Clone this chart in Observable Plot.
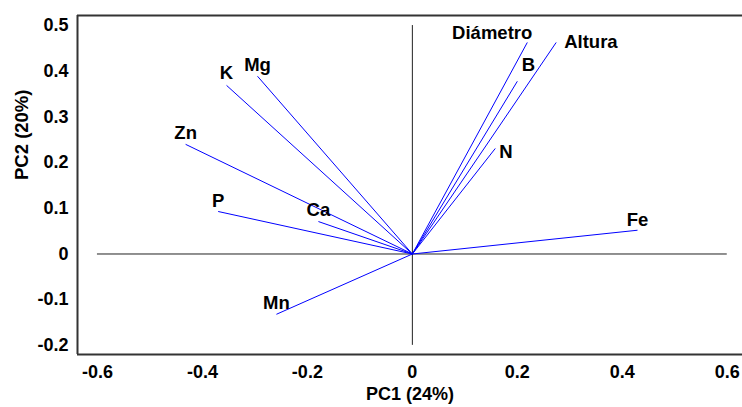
<!DOCTYPE html>
<html>
<head>
<meta charset="utf-8">
<script src="https://cdn.jsdelivr.net/npm/d3@7"></script>
<script src="https://cdn.jsdelivr.net/npm/@observablehq/plot@0.6"></script>
<style>
  html, body { margin: 0; padding: 0; background: #fff; }
  #chart svg { display: block; }
</style>
</head>
<body>
<div id="chart"></div>
<script>
// Loadings (PC1, PC2)
const variables = ["Diámetro", "Altura", "B", "N", "Fe", "K", "Mg", "Zn", "P", "Ca", "Mn"];
const pc1 = [0.219, 0.274, 0.200, 0.158, 0.429, -0.354, -0.295, -0.432, -0.370, -0.179, -0.259];
const pc2 = [0.463, 0.463, 0.378, 0.231, 0.052, 0.369, 0.389, 0.240, 0.093, 0.071, -0.132];
const xTicks = [-0.6, -0.4, -0.2, 0, 0.2, 0.4, 0.6];
const yTicks = [-0.2, -0.1, 0, 0.1, 0.2, 0.3, 0.4, 0.5];
const xLabel = "PC1 (24%)";
const yLabel = "PC2 (20%)";

const data = variables.map((name, i) => ({name, x: pc1[i], y: pc2[i]}));

// label offsets relative to vector tips (px)
const labelOffset = {
  "Diámetro": {dx: 5, dy: -9, anchor: "end"},
  "Altura": {dx: 8, dy: 0, anchor: "start"},
  "B": {dx: 11, dy: -16, anchor: "middle"},
  "N": {dx: 4, dy: 4, anchor: "start"},
  "Fe": {dx: 0, dy: -10, anchor: "middle"},
  "K": {dx: 0, dy: -12, anchor: "middle"},
  "Mg": {dx: 0, dy: -11, anchor: "middle"},
  "Zn": {dx: 0, dy: -11, anchor: "middle"},
  "P": {dx: 0, dy: -10, anchor: "middle"},
  "Ca": {dx: 0, dy: -11, anchor: "middle"},
  "Mn": {dx: 0, dy: -11, anchor: "middle"}
};

const xDomain = [-0.638, 0.629];
const yDomain = [-0.22, 0.522];
const fmt = d => d === 0 ? "0" : d.toFixed(1);
const font = "Liberation Sans, Arial, sans-serif";
const fs = 18;

const textMarks = data.map(d => {
  const o = labelOffset[d.name];
  return Plot.text([d], {x: "x", y: "y", text: "name", dx: o.dx, dy: o.dy, textAnchor: o.anchor,
    fontSize: 18.5, fontWeight: "bold", fill: "#000"});
});

const chart = Plot.plot({
  width: 742,
  height: 407,
  marginLeft: 77,
  marginRight: 0,
  marginTop: 15,
  marginBottom: 53,
  style: {fontFamily: font, fontWeight: "bold", fontSize: fs + "px", color: "#000", background: "#fff"},
  x: {domain: xDomain},
  y: {domain: yDomain},
  marks: [
    Plot.axisX({ticks: xTicks, tickSize: 0, tickPadding: 11, tickFormat: fmt, label: null, fontSize: fs, fontWeight: "bold"}),
    Plot.axisY({ticks: yTicks, tickSize: 0, tickPadding: 9, tickFormat: fmt, label: null, fontSize: fs, fontWeight: "bold"}),
    Plot.ruleY([yDomain[0], yDomain[1]], {stroke: "#333", strokeWidth: 2}),
    Plot.ruleX([xDomain[0]], {stroke: "#333", strokeWidth: 2}),
    Plot.ruleY([0], {x1: xTicks[0], x2: xTicks[xTicks.length - 1], stroke: "#222", strokeWidth: 1}),
    Plot.ruleX([0], {y1: yTicks[0], y2: yTicks[yTicks.length - 1], stroke: "#222", strokeWidth: 1}),
    Plot.link(data, {x1: () => 0, y1: () => 0, x2: "x", y2: "y", stroke: "#0000ff", strokeWidth: 1}),
    ...textMarks,
    Plot.text([xLabel], {frameAnchor: "bottom", text: d => d, dy: 45, fontSize: 18, fontWeight: "bold", fill: "#000"}),
    Plot.text([yLabel], {frameAnchor: "left", text: d => d, dx: -55, dy: -5, rotate: -90, fontSize: 18.5, fontWeight: "bold", fill: "#000"})
  ]
});
document.getElementById("chart").appendChild(chart);
</script>
</body>
</html>
